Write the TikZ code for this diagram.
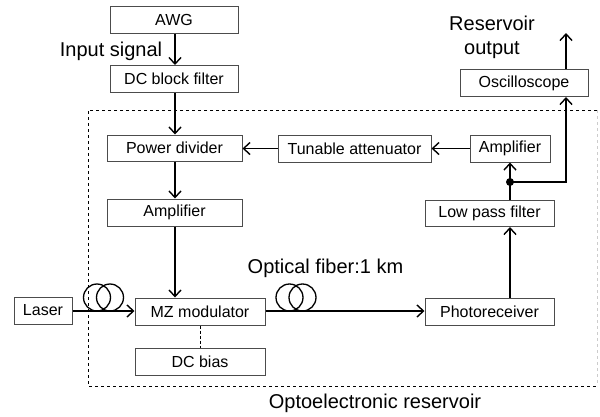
\documentclass[tikz,border=0pt]{standalone}
\usepackage{fontspec}
\setmainfont{Liberation Sans}
\usepackage{tikz}
\usetikzlibrary{calc,arrows.meta}

\tikzset{
    blk/.style={draw=black!70, line width=1pt, minimum height=27pt, inner sep=0pt,
        font=\fontsize{16}{19}\selectfont},
    conn/.style={line width=1.5pt, -{Straight Barb[length=6.5pt,width=12pt,line width=1.4pt]}},
    wire/.style={line width=1.5pt},
    lbl/.style={font=\fontsize{20}{24}\selectfont, inner sep=0pt},
    coil/.style={line width=1.3pt}
}

\begin{document}
\begin{tikzpicture}[x=1pt, y=-1pt]
    \useasboundingbox (0,0) rectangle (600,416);
    % Draw reservoir boundary
    \draw[dashed, line width=0.8pt] (597,110) -- (88,110) -- (88,386) -- (597,386);
    \draw[dashed, line width=0.8pt, black!20] (597,110) -- (597,386);
    % Draw blocks
    \node[blk, minimum width=128pt] (awg) at (174,19.5) {AWG};
    \node[blk, minimum width=128pt] (dcblock) at (174,79) {DC block filter};
    \node[blk, minimum width=135pt, minimum height=26pt] (divider) at (174.5,148) {Power divider};
    \node[blk, minimum width=153pt] (atten) at (354.5,148.5) {Tunable attenuator};
    \node[blk, minimum width=80pt] (ampR) at (510,148.5) {Amplifier};
    \node[blk, minimum width=128pt] (scope) at (524,83) {Oscilloscope};
    \node[blk, minimum width=135pt] (ampL) at (174.5,212.5) {Amplifier};
    \node[blk, minimum width=130pt] (mzm) at (200,311.5) {MZ modulator};
    \node[blk, minimum width=58pt] (laser) at (43,310.5) {Laser};
    \node[blk, minimum width=130pt] (bias) at (200,361.5) {DC bias};
    \node[blk, minimum width=129pt, minimum height=26pt] (lpf) at (489.5,213.5) {Low pass filter};
    \node[blk, minimum width=129pt] (receiver) at (489.5,311.5) {Photoreceiver};
    % Draw labels
    \node[lbl] (insig) at (111,51) {Input signal};
    \node[lbl, align=center] (resout) at (492,37) {Reservoir\\output};
    \node[lbl] (fiberlbl) at (325.5,268) {Optical fiber:1 km};
    \node[lbl] (oelbl) at (375,403) {Optoelectronic reservoir};
    % Draw fiber coils
    \draw[coil] (97,297.5) circle (13.5);
    \draw[coil] (110,297.5) circle (13.5);
    \draw[coil] (289.5,297.5) circle (13.5);
    \draw[coil] (302.5,297.5) circle (13.5);
    % Draw signal path
    \draw[conn] (awg.south -| 175,0) -- (dcblock.north -| 175,0);
    \draw[conn] (dcblock.south -| 175,0) -- (divider.north -| 175,0);
    \draw[conn] (divider.south -| 175,0) -- (ampL.north -| 175,0);
    \draw[conn] (ampL.south -| 175,0) -- (mzm.north -| 175,0);
    \draw[conn] (laser.east |- 0,311) -- (mzm.west |- 0,311);
    \draw[conn] (mzm.east |- 0,311) -- (receiver.west |- 0,311);
    \draw[densely dashed, line width=0.8pt] (mzm.south) -- (bias.north);
    % Draw feedback loop
    \draw[conn] (receiver.north -| ampR) -- (lpf.south -| ampR);
    \coordinate (split) at (510,182);
    \coordinate (tap) at (566,182);
    \draw[conn] (lpf.north -| ampR) -- (ampR.south);
    \draw[conn] (ampR.west) -- (atten.east);
    \draw[conn] (atten.west) -- (divider.east |- atten.west);
    \fill (split) circle (4);
    % Draw output to oscilloscope
    \draw[conn] (split) -- (tap) -- (tap |- scope.south);
    \coordinate (out) at (566,33);
    \draw[conn] (scope.north -| out) -- (out);
\end{tikzpicture}
\end{document}
